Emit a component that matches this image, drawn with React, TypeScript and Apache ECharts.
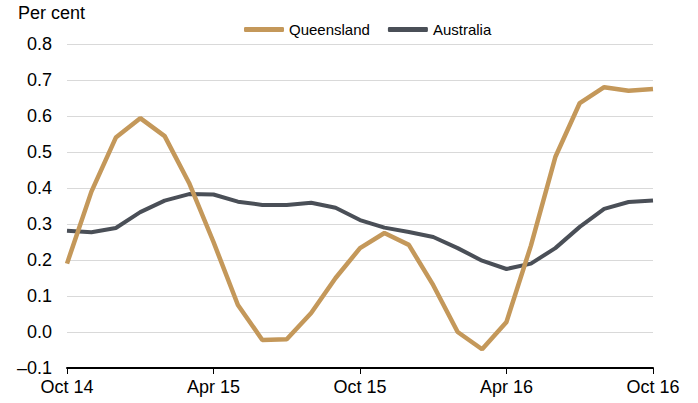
import React, { useEffect, useRef } from "react";
import * as echarts from "echarts";

const months = [
  "Oct 14", "Nov 14", "Dec 14", "Jan 15", "Feb 15", "Mar 15", "Apr 15", "May 15", "Jun 15",
  "Jul 15", "Aug 15", "Sep 15", "Oct 15", "Nov 15", "Dec 15", "Jan 16", "Feb 16", "Mar 16",
  "Apr 16", "May 16", "Jun 16", "Jul 16", "Aug 16", "Sep 16", "Oct 16",
];

const queensland = [
  0.19, 0.39, 0.54, 0.594, 0.544, 0.414, 0.25, 0.075, -0.022, -0.02, 0.053, 0.15, 0.233,
  0.275, 0.242, 0.13, 0.0, -0.048, 0.028, 0.24, 0.486, 0.636, 0.68, 0.67, 0.675,
];

const australia = [
  0.281, 0.277, 0.289, 0.333, 0.365, 0.383, 0.382, 0.362, 0.353, 0.353, 0.359, 0.345, 0.311,
  0.29, 0.278, 0.264, 0.233, 0.198, 0.175, 0.19, 0.233, 0.292, 0.342, 0.361, 0.365,
];

const yMin = -0.1;
const yMax = 0.8;
const yStep = 0.1;

const FONT = "'Liberation Sans', Arial, sans-serif";
const GOLD = "#C4985A";
const GREY = "#4A4F57";

export default function App() {
  const ref = useRef<HTMLDivElement>(null);

  useEffect(() => {
    if (!ref.current) return;
    const chart = echarts.init(ref.current, undefined, { renderer: "svg" });
    chart.setOption({
      animation: false,
      backgroundColor: "#ffffff",
      textStyle: { fontFamily: FONT },
      graphic: [
        {
          type: "text",
          left: 18,
          top: 4,
          style: { text: "Per cent", fontSize: 18, fontFamily: FONT, fill: "#000" },
        },
      ],
      legend: {
        data: ["Queensland", "Australia"],
        left: 239,
        top: 17,
        icon: "roundRect",
        itemWidth: 40,
        itemHeight: 5,
        itemGap: 18,
        textStyle: { fontSize: 15, fontFamily: FONT, color: "#000", padding: [0, 0, 0, 0] },
      },
      grid: { left: 67, right: 45, top: 44, bottom: 35, containLabel: false },
      xAxis: {
        type: "category",
        data: months,
        boundaryGap: false,
        axisLine: { onZero: false, lineStyle: { color: "#000", width: 2 } },
        axisTick: {
          interval: (i: number) => i % 6 === 0,
          length: 6,
          lineStyle: { color: "#000", width: 1 },
        },
        axisLabel: {
          interval: 5,
          fontSize: 18,
          fontFamily: FONT,
          color: "#000",
          margin: 10,
        },
        splitLine: { show: false },
      },
      yAxis: {
        type: "value",
        min: yMin,
        max: yMax,
        interval: yStep,
        axisLine: { show: false },
        axisTick: { show: false },
        axisLabel: {
          fontSize: 18,
          fontFamily: FONT,
          color: "#000",
          margin: 15,
          formatter: (v: number) =>
            v < -1e-9 ? "\u2013" + Math.abs(v).toFixed(1) : Math.abs(v).toFixed(1),
        },
        splitLine: { lineStyle: { color: "#D9D9D9", width: 1 } },
      },
      series: [
        {
          name: "Australia",
          type: "line",
          data: australia,
          symbol: "none",
          lineStyle: { color: GREY, width: 4 },
          itemStyle: { color: GREY },
        },
        {
          name: "Queensland",
          type: "line",
          data: queensland,
          symbol: "none",
          lineStyle: { color: GOLD, width: 4.5 },
          itemStyle: { color: GOLD },
        },
      ],
    });
    return () => chart.dispose();
  }, []);

  return (
    <div
      ref={ref}
      style={{ position: "fixed", left: 0, top: 0, width: 698, height: 403, background: "#fff" }}
    />
  );
}
